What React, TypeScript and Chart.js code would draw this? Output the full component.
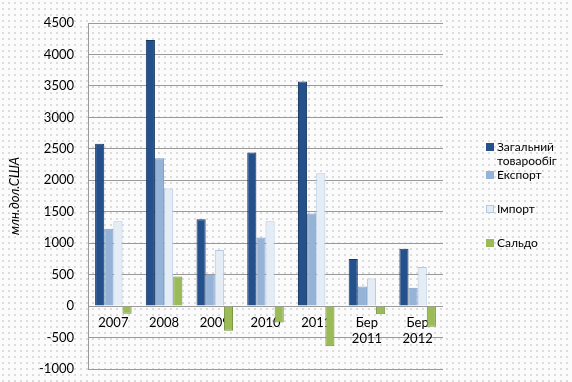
import React, { useEffect, useRef } from "react";
import { Chart, registerables } from "chart.js";

Chart.register(...registerables);

const categories = ["2007", "2008", "2009", "2010", "2011", ["Бер", "2011"], ["Бер", "2012"]];
const seriesNames = ["Загальний товарообіг", "Експорт", "Імпорт", "Сальдо"];
const totalTrade = [2580, 4230, 1380, 2440, 3570, 750, 910];
const exportsData = [1230, 2350, 500, 1090, 1470, 310, 290];
const importsData = [1350, 1870, 890, 1350, 2110, 440, 620];
const balance = [-120, 470, -390, -260, -640, -130, -330];
const yTitle = "млн.дол.США";

const fills = ["#24508C", "#95B3D7", "#E4ECF6", "#9BBB59"];
const borders = ["#17375E", "#7A9CC8", "#B4C8E0", "#76923C"];

export default function App() {
  const ref = useRef<HTMLCanvasElement | null>(null);

  useEffect(() => {
    document.body.style.margin = "0";
    const ctx = ref.current!;
    const data = [totalTrade, exportsData, importsData, balance];
    const chart = new Chart(ctx, {
      type: "bar",
      data: {
        labels: categories as any,
        datasets: data.map((d, i) => ({
          label: seriesNames[i],
          data: d,
          backgroundColor: fills[i],
          borderColor: borders[i],
          borderWidth: 1,
          barPercentage: 1,
          categoryPercentage: 0.72,
        })),
      },
      options: {
        animation: false,
        responsive: false,
        layout: { padding: { top: 23, bottom: 13, right: 129, left: 0 } },
        plugins: { legend: { display: false }, tooltip: { enabled: false } },
        scales: {
          x: {
            position: { y: 0 } as any,
            grid: { display: false },
            border: { display: false },
            ticks: {
              color: "#000",
              font: { family: "Lato", size: 13 },
              padding: 1,
              maxRotation: 0,
              autoSkip: false,
            },
            afterFit: (s: any) => { s.height = 0; s.paddingTop = 0; s.paddingBottom = 0; },
          },
          y: {
            min: -1000,
            max: 4500,
            ticks: {
              stepSize: 500,
              color: "#000",
              font: { family: "Lato", size: 13 },
              padding: 14,
              callback: (v: any) => String(v),
            },
            grid: { color: "#9a9a9a", lineWidth: 1, drawTicks: false },
            border: { display: true, color: "#9a9a9a" },
            title: {
              display: true,
              text: yTitle,
              color: "#000",
              font: { family: "Lato", size: 13, style: "italic" },
              padding: { top: 7, bottom: 0 },
            },
            afterFit: (s: any) => { s.width = 88; s.paddingTop = 0; s.paddingBottom = 0; },
          },
        },
      },
    });
    return () => chart.destroy();
  }, []);

  const legendItems = [
    { lines: ["Загальний", "товарообіг"], color: fills[0], top: 140 },
    { lines: ["Експорт"], color: fills[1], top: 168 },
    { lines: ["Імпорт"], color: fills[2], top: 202 },
    { lines: ["Сальдо"], color: fills[3], top: 236 },
  ];

  return (
    <div
      style={{
        position: "relative",
        width: 572,
        height: 382,
        backgroundColor: "#fbfbfb",
        backgroundImage: "radial-gradient(#dcdcdc 0.8px, transparent 1px)",
        backgroundSize: "6px 6px",
      }}
    >
      <canvas ref={ref} width={572} height={382} style={{ position: "absolute", left: 0, top: 0 }} />
      {legendItems.map((it, i) => (
        <div
          key={i}
          style={{
            position: "absolute",
            left: 486,
            top: it.top,
            fontFamily: "Lato",
            fontSize: 12,
            lineHeight: "14px",
            color: "#000",
            display: "flex",
            alignItems: "flex-start",
          }}
        >
          <span
            style={{
              display: "inline-block",
              width: 8,
              height: 8,
              marginTop: 3,
              marginRight: 3,
              background: it.color,
              border: i === 2 ? "1px solid #B4C8E0" : "none",
              boxSizing: "border-box",
            }}
          />
          <span>
            {it.lines.map((l, j) => (
              <div key={j}>{l}</div>
            ))}
          </span>
        </div>
      ))}
    </div>
  );
}
